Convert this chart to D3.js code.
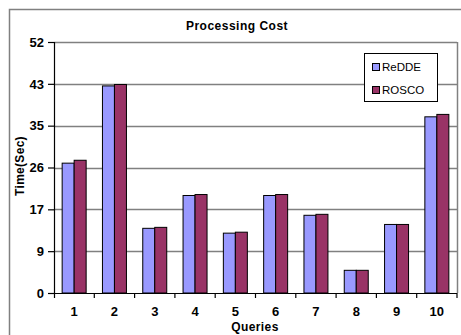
<!DOCTYPE html>
<html><head><meta charset="utf-8">
<script src="https://cdn.jsdelivr.net/npm/d3@7"></script>
<style>body{margin:0;background:#fff}svg{display:block}text{font-family:Arial,"Liberation Sans",sans-serif}</style>
</head><body>
<svg id="c" width="461" height="335"></svg>
<script>
const categories = ["1","2","3","4","5","6","7","8","9","10"];
const seriesNames = ["ReDDE","ROSCO"];
const redde = [26.9, 42.9, 13.4, 20.2, 12.4, 20.2, 16.1, 4.7, 14.2, 36.5];
const rosco = [27.5, 43.2, 13.6, 20.4, 12.6, 20.4, 16.3, 4.7, 14.2, 37.0];
const yTickLabels = ["0","9","17","26","35","43","52"];
const colors = ["#9999FF", "#993366"];

const svg = d3.select("#c");
const L = 54, R = 457, T = 42, B = 293;
const x = d3.scaleBand().domain(categories).range([L, R]).paddingInner(0).paddingOuter(0);
const xs = d3.scaleBand().domain(seriesNames).range([0, x.bandwidth()]).paddingInner(0).paddingOuter(0.68);
const y = d3.scaleLinear().domain([0, 52]).range([B, T]);
const yTicks = d3.range(0, 7).map(i => i * 52 / 6);

// outer frame
svg.append("path").attr("d", "M9.5,335 L9.5,9.5 L461,9.5").attr("fill","none").attr("stroke","#808080").attr("stroke-width",1.5);

// gridlines
svg.append("g").selectAll("line").data(yTicks.slice(1)).join("line")
  .attr("x1", L).attr("x2", R).attr("y1", d => Math.round(y(d)) + 0.5).attr("y2", d => Math.round(y(d)) + 0.5)
  .attr("stroke", "#808080").attr("stroke-width", 1.5);
svg.append("line").attr("x1", R+0.5).attr("x2", R+0.5).attr("y1", T).attr("y2", B).attr("stroke","#808080").attr("stroke-width",1.5);

// bars
const data = categories.map((c, i) => ({c, vals: [redde[i], rosco[i]]}));
const g = svg.append("g").selectAll("g").data(data).join("g").attr("transform", d => `translate(${x(d.c)},0)`);
g.selectAll("rect").data(d => d.vals.map((v, j) => ({v, s: seriesNames[j], j}))).join("rect")
  .attr("x", d => xs(d.s)).attr("width", xs.bandwidth())
  .attr("y", d => y(d.v)).attr("height", d => B - y(d.v))
  .attr("fill", d => colors[d.j]).attr("stroke", "#000").attr("stroke-width", 1);

// y axis
const yAxis = d3.axisLeft(y).tickValues(yTicks).tickFormat((d, i) => yTickLabels[i]).tickSize(6).tickPadding(4);
const ya = svg.append("g").attr("transform", `translate(${L},0)`).call(yAxis);
ya.select(".domain").attr("d", `M0.5,${T}V${B+5}`).attr("stroke", "#000").attr("stroke-width", 1.2);
ya.selectAll(".tick line").attr("stroke", "#000").attr("stroke-width", 1.2);
ya.selectAll("text").attr("font-size", 13).attr("font-weight", "bold").attr("fill", "#000");

// x axis
const xAxis = d3.axisBottom(x).tickSize(0).tickPadding(14);
const xa = svg.append("g").attr("transform", `translate(0,${B})`).call(xAxis);
xa.select(".domain").attr("d", `M${L},0.5H${R}`).attr("stroke", "#000").attr("stroke-width", 1.2);
xa.selectAll("text").attr("font-size", 13).attr("font-weight", "bold").attr("fill", "#000");
xa.append("g").selectAll("line").data(categories).join("line")
  .attr("x1", (d, i) => L + (i + 1) * x.bandwidth()).attr("x2", (d, i) => L + (i + 1) * x.bandwidth())
  .attr("y1", 0).attr("y2", 5).attr("stroke", "#000").attr("stroke-width", 1.2);

// titles
svg.append("text").attr("x", 237).attr("y", 30).attr("text-anchor", "middle").attr("font-size", 12).attr("letter-spacing", 0.5).attr("font-weight", "bold").text("Processing Cost");
svg.append("text").attr("x", 255).attr("y", 331).attr("text-anchor", "middle").attr("font-size", 12).attr("letter-spacing", 0.4).attr("font-weight", "bold").text("Queries");
svg.append("text").attr("transform", "translate(24,166) rotate(-90)").attr("text-anchor", "middle").attr("font-size", 12).attr("letter-spacing", 0.3).attr("font-weight", "bold").text("Time(Sec)");

// legend
const lg = svg.append("g");
lg.append("rect").attr("x", 364.5).attr("y", 53.5).attr("width", 73).attr("height", 48).attr("fill", "#fff").attr("stroke", "#000").attr("stroke-width", 1);
seriesNames.forEach((s, i) => {
  lg.append("rect").attr("x", 372.5).attr("y", 63.5 + i * 23).attr("width", 7).attr("height", 7).attr("fill", colors[i]).attr("stroke", "#000");
  lg.append("text").attr("x", 382).attr("y", 71 + i * 23).attr("font-size", 11.5).text(s);
});
</script>
</body></html>
